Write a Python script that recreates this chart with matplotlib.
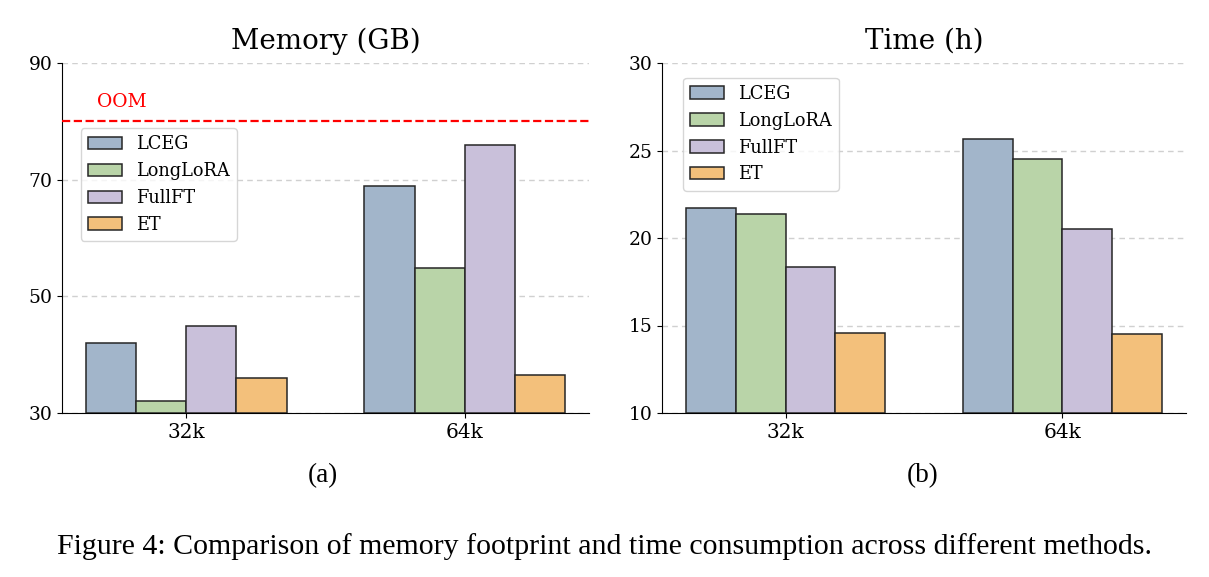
import matplotlib
matplotlib.use("Agg")
import matplotlib.pyplot as plt
import numpy as np

# ---- data ----
contexts = ["32k", "64k"]
methods = ["LCEG", "LongLoRA", "FullFT", "ET"]
memory_gb = {
    "LCEG": [42, 69],
    "LongLoRA": [32, 54.8],
    "FullFT": [45, 76],
    "ET": [36, 36.5],
}
time_h = {
    "LCEG": [21.7, 25.65],
    "LongLoRA": [21.4, 24.5],
    "FullFT": [18.35, 20.5],
    "ET": [14.6, 14.5],
}
oom_limit = 80
mem_ticks = [30, 50, 70, 90]
time_ticks = [10, 15, 20, 25, 30]

colors = {"LCEG": "#a2b5ca", "LongLoRA": "#b9d4a8", "FullFT": "#c9c0da", "ET": "#f3c07b"}

plt.rcParams["font.family"] = ["DejaVu Serif"]

W, H = 1209, 577
fig = plt.figure(figsize=(W / 100, H / 100), dpi=100)

def px_axes(x0, x1, ytop, ybot):
    return fig.add_axes([x0 / W, 1 - ybot / H, (x1 - x0) / W, (ybot - ytop) / H])

axL = px_axes(62, 589, 63, 413)
axR = px_axes(662, 1186, 63, 413)

width = 0.18
x = np.arange(len(contexts))

def draw(ax, data, ylim, ticks, title):
    for i, m in enumerate(methods):
        ax.bar(x + (i - 1.5) * width, np.array(data[m]) - ylim[0], width,
               bottom=ylim[0], color=colors[m], edgecolor="#262626",
               linewidth=1.1, label=m, zorder=3)
    ax.set_ylim(*ylim)
    ax.set_yticks(ticks)
    ax.set_xticks(x)
    ax.set_xticklabels(contexts, fontsize=14.5)
    ax.tick_params(axis="y", labelsize=13.5)
    ax.grid(axis="y", linestyle=(0, (4, 3)), color="#d0d0d0", linewidth=1.0, zorder=0)
    ax.set_axisbelow(True)
    ax.spines["top"].set_visible(False)
    ax.spines["right"].set_visible(False)
    ax.set_title(title, fontsize=20, pad=10)

draw(axL, memory_gb, (30, 90), mem_ticks, "Memory (GB)")
draw(axR, time_h, (10, 30), time_ticks, "Time (h)")

axL.axhline(oom_limit, color="red", linestyle="--", linewidth=1.6, zorder=4)
axL.text(-0.32, oom_limit + 1.8, "OOM", color="red", fontsize=13.5, va="bottom", ha="left")

axL.legend(loc="upper left", bbox_to_anchor=(0.0355, 0.814), borderaxespad=0,
           fontsize=12.8, frameon=True, handlelength=1.9)
axR.legend(loc="upper left", bbox_to_anchor=(0.04, 0.958), borderaxespad=0,
           fontsize=12.8, frameon=True, handlelength=1.9)

fig.text(323 / W, 1 - 476 / H, "(a)", ha="center", va="center", fontsize=19.5,
         family="Liberation Serif")
fig.text(923 / W, 1 - 476 / H, "(b)", ha="center", va="center", fontsize=19.5,
         family="Liberation Serif")
fig.text(605 / W, 1 - 547 / H,
         "Figure 4: Comparison of memory footprint and time consumption across different methods.",
         ha="center", va="center", fontsize=21.5, family="Liberation Serif")

fig.savefig("out.png", dpi=100)
